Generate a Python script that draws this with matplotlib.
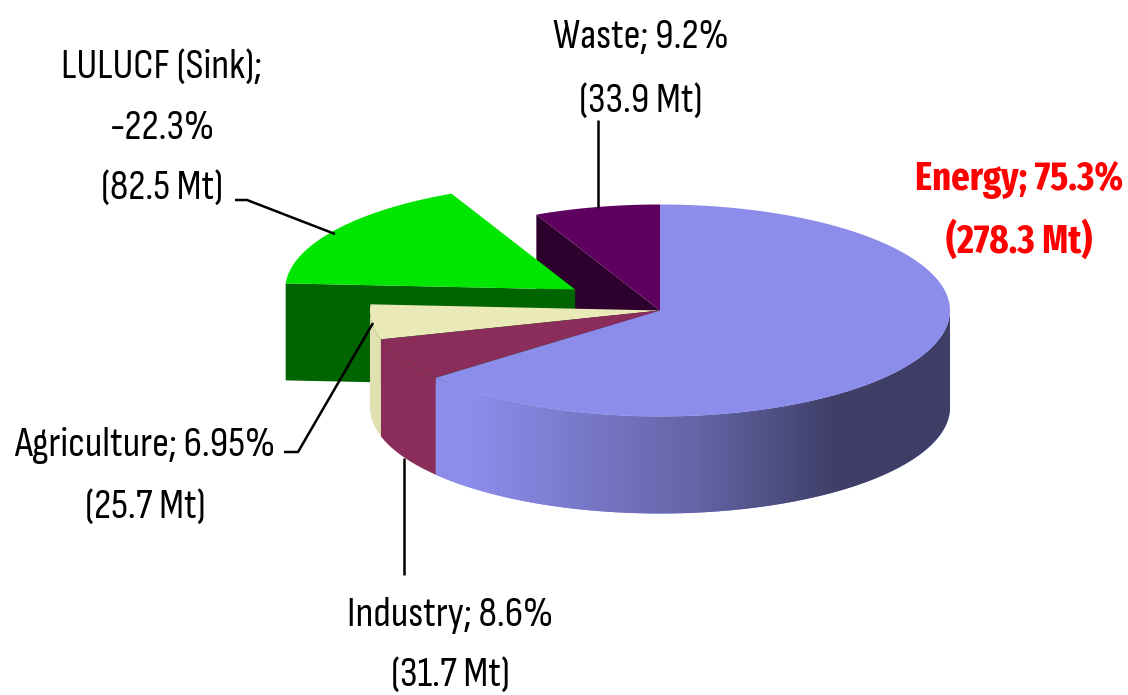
import numpy as np
import matplotlib
matplotlib.use('Agg')
import matplotlib.pyplot as plt
from matplotlib.colors import LinearSegmentedColormap
from matplotlib.patches import Polygon

# Sector data (Mt), counter-clockwise from 12 o'clock
sectors = ['Waste', 'LULUCF (Sink)', 'Agriculture', 'Industry', 'Energy']
emissions = [33.9, 82.5, 25.7, 31.7, 278.3]
percents = ['9.2%', '-22.3%', '6.95%', '8.6%', '75.3%']
explode = [0, 0.353, 0, 0, 0]

# Pie geometry in pixels
cx, cy = 660, 310.5
rx, ry = 290, 106
depth = 97
view_squeeze = 0.935  # foreshortening of the tilted disc

top_colors = ['#5e005e', '#00e600', '#eaeab8', '#8b2d5b', '#8c8ceb']
wall_colors = ['#2d002d', '#006400', '#e0e0b0', '#8b2d5b', None]

body_font = ['Sofia Sans Condensed', 'Liberation Sans', 'DejaVu Sans']
bold_font = ['Fira Sans Extra Condensed', 'Liberation Sans', 'DejaVu Sans']

fig = plt.figure(figsize=(11.28, 6.95), dpi=100)
ax = fig.add_axes([0, 0, 1, 1])
ax.set_xlim(0, 1128)
ax.set_ylim(695, 0)
ax.axis('off')

# Slice boundaries, in degrees from the top of the disc
edges = np.cumsum([0] + emissions) / np.sum(emissions) * 360 * view_squeeze
edges[-1] = 360


def arc(a0, a1, ox, oy):
    a = np.radians(np.linspace(a0, a1, 200))
    return np.column_stack([ox - rx * np.sin(a), oy - ry * np.cos(a)])


def wall(a0, a1, ox, oy, color, z):
    # Only the part of the rim on the viewer's side is visible
    a0, a1 = max(a0, 90), min(a1, 270)
    if a0 >= a1:
        return None
    pts = arc(a0, a1, ox, oy)
    poly = np.vstack([pts, pts[::-1] + [0, depth]])
    p = Polygon(poly, closed=True, fc=color, ec='none', zorder=z)
    ax.add_patch(p)
    return p


for i in range(len(sectors)):
    a0, a1 = edges[i], edges[i + 1]
    mid = np.radians((a0 + a1) / 2)
    ox = cx - rx * explode[i] * np.sin(mid)
    oy = cy - ry * explode[i] * np.cos(mid)
    z = 2 + i * 3

    # Cut face on the leading edge of the two back slices
    if i < 2:
        e = arc(a1, a1, ox, oy)[0]
        face = [e, [ox, oy], [ox, oy + depth], e + [0, depth]]
        ax.add_patch(Polygon(face, closed=True, fc=wall_colors[i], ec='none', zorder=z))

    if wall_colors[i] is not None:
        wall(a0, a1, ox, oy, wall_colors[i], z + 1)
    else:
        # Energy rim is shaded left to right, darkest on the far right
        rim = wall(a0, a1, ox, oy, '#8c8ceb', z + 1)
        shade = LinearSegmentedColormap.from_list('rim', [(0, '#8c8ceb'), (0.08, '#8c8ceb'),
                                                          (0.5, '#6565a8'), (0.78, '#3f3f68'),
                                                          (1, '#3d3d66')])
        im = ax.imshow(np.linspace(0, 1, 512)[None, :], cmap=shade, extent=(433, 950, 520, 300),
                       aspect='auto', zorder=z + 1.5)
        im.set_clip_path(rim)

    top = np.vstack([[ox, oy], arc(a0, a1, ox, oy)])
    ax.add_patch(Polygon(top, closed=True, fc=top_colors[i], ec='none', zorder=z + 2))

ax.set_xlim(0, 1128)
ax.set_ylim(695, 0)

# Leader lines from labels to slices
leaders = [([598, 598], [120, 208]),
           ([235, 247, 335], [200, 200, 234]),
           ([284, 298, 373], [452, 452, 323]),
           ([404, 404], [458, 575])]
for xs, ys in leaders:
    ax.plot(xs, ys, color='black', lw=1.8, zorder=30, solid_capstyle='butt')

# Data labels, one baseline per line of text
text_size = 30
bold_size = 28.5
label_x = [641, 162, 145, 450, 1019]
label_baselines = [[48, 112], [78, 139, 199], [456, 518], [626, 686], [190, 253]]
for i, name in enumerate(sectors):
    amount = '({} Mt)'.format(emissions[i])
    if name.startswith('LULUCF'):
        lines = [name + ';', percents[i], amount]
    else:
        lines = ['{}; {}'.format(name, percents[i]), amount]
    for line, base in zip(lines, label_baselines[i]):
        if name == 'Energy':
            ax.text(label_x[i], base, line, ha='center', va='baseline', fontsize=bold_size, zorder=40,
                    color='#ff0000', fontweight='bold', family=bold_font)
        else:
            ax.text(label_x[i], base, line, ha='center', va='baseline', fontsize=text_size, zorder=40,
                    color='black', family=body_font)

fig.savefig('out.png', dpi=100)
